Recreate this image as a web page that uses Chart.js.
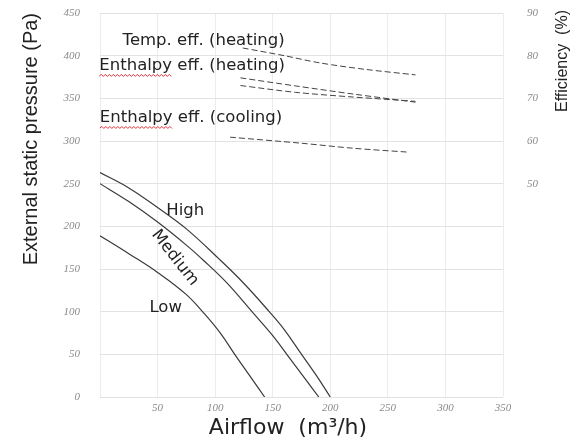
<!DOCTYPE html>
<html>
  <head>
    <title>Airflow vs pressure</title>
    <meta charset="utf-8" />
    <script src="https://cdn.jsdelivr.net/npm/chart.js"></script>
    <style>
      html, body { margin: 0; padding: 0; background: #fff; }
      #chart { display: block; }
    </style>
  </head>
  <body>
    <canvas id="chart" width="580" height="442"></canvas>
    <script>
      // 风量-静压曲线 (airflow m3/h, pressure Pa)
      const lowAirflow = [0, 25, 50, 75, 91, 105, 117, 130, 143];
      const lowPressure = [189, 168, 146, 120, 97, 74, 50, 25, 0];
      const mediumAirflow = [0, 25, 50, 75, 90, 110, 132, 150, 165, 180, 190];
      const mediumPressure = [250, 229, 205, 178, 160, 134, 100, 72, 45, 18, 0];
      const highAirflow = [0, 25, 50, 75, 104, 125, 147, 160, 174, 188, 200];
      const highPressure = [263, 245, 222, 197, 161, 133, 100, 79, 52, 25, 0];

      // 效率曲线 (airflow, efficiency %)
      const tempHeatAirflow = [124, 160, 191, 230, 274];
      const tempHeatEff = [81.8, 80.0, 78.3, 76.8, 75.5];
      const enthHeatAirflow = [122, 170, 220, 274];
      const enthHeatEffA = [74.8, 72.9, 71.0, 69.1];
      const enthHeatEffB = [73.0, 71.4, 70.3, 69.3];
      const enthCoolAirflow = [113, 174, 220, 267];
      const enthCoolEff = [60.9, 59.5, 58.3, 57.4];

      const xTicks = [0, 50, 100, 150, 200, 250, 300, 350];
      const pressureTicks = [0, 50, 100, 150, 200, 250, 300, 350, 400, 450];
      const effTicks = [50, 60, 70, 80, 90];

      function pts(xs, ys) {
        return xs.map(function (x, i) { return { x: x, y: ys[i] }; });
      }

      // 文字标注 (data units on airflow / pressure axes)
      const notes = [
        { text: 'Temp. eff. (heating)', x: 90, y: 418, rot: 0, squiggle: false },
        { text: 'Enthalpy eff. (heating)', x: 80, y: 388, rot: 0, squiggle: true },
        { text: 'Enthalpy eff. (cooling)', x: 79, y: 327, rot: 0, squiggle: true },
        { text: 'High', x: 74, y: 218, rot: 0, squiggle: false },
        { text: 'Medium', x: 65, y: 163, rot: 52, squiggle: false },
        { text: 'Low', x: 57, y: 105, rot: 0, squiggle: false }
      ];

      const tickFont = { family: 'Liberation Serif', size: 11, style: 'italic' };
      const tickColor = '#8a8a8a';

      // 去掉刻度 padding 对绘图区顶部的影响
      function noVPad(s) { s.paddingTop = 0; s.paddingBottom = 0; }

      const notesPlugin = {
        id: 'notes',
        afterDatasetsDraw: function (chart) {
          const ctx = chart.ctx;
          const xs = chart.scales.x, ys = chart.scales.y;
          ctx.save();
          ctx.font = '16.5px "DejaVu Sans"';
          ctx.fillStyle = '#222';
          ctx.textAlign = 'center';
          ctx.textBaseline = 'middle';
          notes.forEach(function (n) {
            const px = xs.getPixelForValue(n.x);
            const py = ys.getPixelForValue(n.y);
            ctx.save();
            ctx.translate(px, py);
            ctx.rotate(n.rot * Math.PI / 180);
            ctx.fillText(n.text, 0, 0);
            if (n.squiggle) {
              const full = ctx.measureText(n.text).width;
              const w = ctx.measureText('Enthalpy').width;
              const x0 = -full / 2;
              ctx.strokeStyle = '#e0303a';
              ctx.lineWidth = 1;
              ctx.beginPath();
              let up = true;
              ctx.moveTo(x0, 10);
              for (let x = x0 + 2; x <= x0 + w; x += 2) {
                ctx.lineTo(x, up ? 8.5 : 10.5);
                up = !up;
              }
              ctx.stroke();
            }
            ctx.restore();
          });
          // 轴标题
          ctx.fillStyle = '#222';
          ctx.textAlign = 'center';
          ctx.font = '22px "DejaVu Sans"';
          ctx.fillText('Airflow  (m³/h)', 288, 428);
          ctx.font = '16px "Liberation Sans"';
          ctx.translate(563, 10);
          ctx.rotate(-Math.PI / 2);
          ctx.textAlign = 'right';
          ctx.fillText('Efficiency  (%)', 0, 0);
          ctx.restore();
        }
      };

      const curve = { borderColor: '#3a3a3a', borderWidth: 1.2, pointRadius: 0, showLine: true, tension: 0.4, fill: false };
      const dashed = { borderColor: '#444', borderWidth: 1, pointRadius: 0, showLine: true, tension: 0.3, fill: false, borderDash: [6, 3] };

      const data = {
        datasets: [
          Object.assign({ label: 'High', data: pts(highAirflow, highPressure), yAxisID: 'y' }, curve),
          Object.assign({ label: 'Medium', data: pts(mediumAirflow, mediumPressure), yAxisID: 'y' }, curve),
          Object.assign({ label: 'Low', data: pts(lowAirflow, lowPressure), yAxisID: 'y' }, curve),
          Object.assign({ label: 'Temp. eff. (heating)', data: pts(tempHeatAirflow, tempHeatEff), yAxisID: 'y2' }, dashed),
          Object.assign({ label: 'Enthalpy eff. (heating)', data: pts(enthHeatAirflow, enthHeatEffA), yAxisID: 'y2' }, dashed),
          Object.assign({ label: 'Enthalpy eff. (heating) 2', data: pts(enthHeatAirflow, enthHeatEffB), yAxisID: 'y2' }, dashed),
          Object.assign({ label: 'Enthalpy eff. (cooling)', data: pts(enthCoolAirflow, enthCoolEff), yAxisID: 'y2' }, dashed)
        ]
      };

      const options = {
        responsive: false,
        animation: false,
        layout: { padding: { top: 13, left: 0, right: 0, bottom: 0 } },
        plugins: { legend: { display: false }, tooltip: { enabled: false } },
        scales: {
          x: {
            type: 'linear',
            min: 0,
            max: 350,
            afterBuildTicks: function (s) { s.ticks = xTicks.map(function (v) { return { value: v }; }); },
            afterFit: function (s) { s.height = 45; },
            ticks: {
              font: tickFont,
              color: tickColor,
              padding: 5,
              maxRotation: 0,
              callback: function (v) { return v === 0 ? '' : v; }
            },
            grid: { color: '#ececec', drawTicks: false },
            border: { display: false }
          },
          y: {
            type: 'linear',
            position: 'left',
            min: 0,
            max: 450,
            afterBuildTicks: function (s) { s.ticks = pressureTicks.map(function (v) { return { value: v }; }); },
            afterFit: function (s) { s.width = 100; noVPad(s); },
            ticks: { font: tickFont, color: tickColor, padding: 20 },
            grid: { color: '#e2e2e2', drawTicks: false },
            border: { display: false },
            title: {
              display: true,
              align: 'end',
              text: 'External static pressure (Pa)',
              font: { family: 'Liberation Sans', size: 20 },
              color: '#222',
              padding: { top: 19, bottom: 0 }
            }
          },
          y2: {
            type: 'linear',
            position: 'right',
            min: 0,
            max: 90,
            afterBuildTicks: function (s) { s.ticks = effTicks.map(function (v) { return { value: v }; }); },
            afterFit: function (s) { s.width = 77; noVPad(s); },
            ticks: { font: tickFont, color: tickColor, padding: 24 },
            grid: { display: false, drawTicks: false },
            border: { display: false }
          }
        }
      };

      new Chart(document.getElementById('chart').getContext('2d'), {
        type: 'scatter',
        data: data,
        options: options,
        plugins: [notesPlugin]
      });
    </script>
  </body>
</html>
